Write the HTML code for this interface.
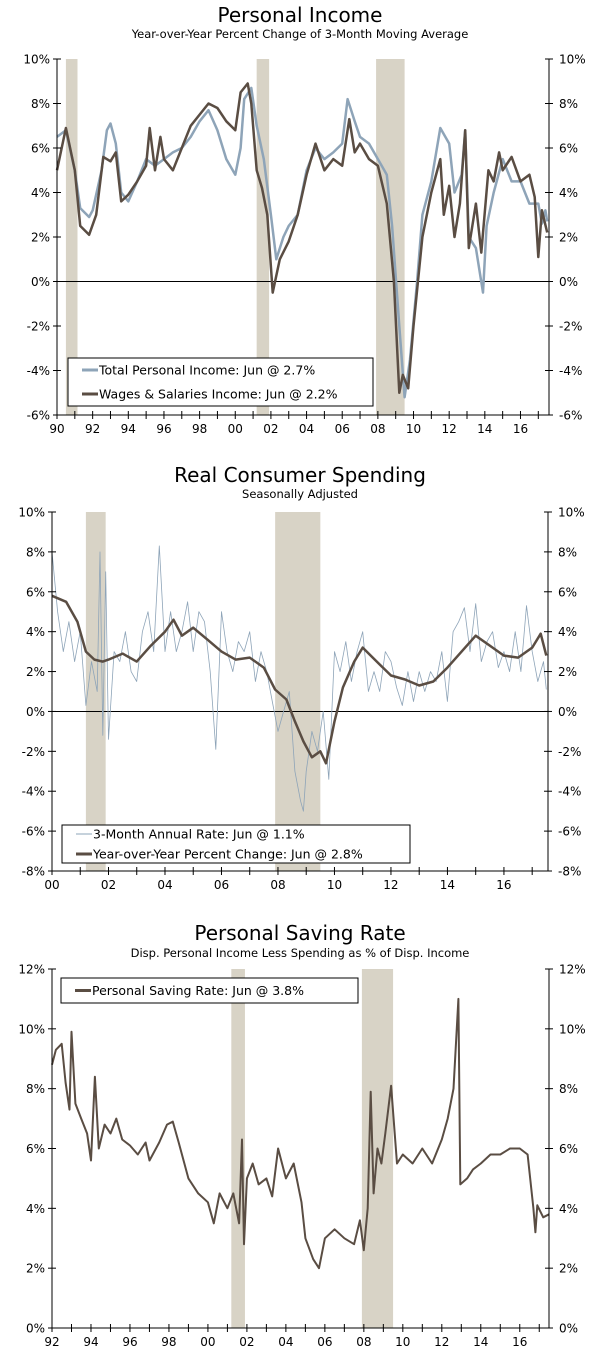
<!DOCTYPE html>
<html><head><meta charset="utf-8"><style>
body{margin:0;background:#fff;width:600px;height:1361px;overflow:hidden}
svg{display:block;font-family:"DejaVu Sans","Liberation Sans",sans-serif}
</style></head><body>
<svg id="s" width="600" height="1361">
<text x="300" y="22" text-anchor="middle" font-size="20">Personal Income</text>
<text x="300" y="38" text-anchor="middle" font-size="11.5">Year-over-Year Percent Change of 3-Month Moving Average</text>
<text x="300" y="482" text-anchor="middle" font-size="20">Real Consumer Spending</text>
<text x="300" y="498" text-anchor="middle" font-size="11.5">Seasonally Adjusted</text>
<text x="300" y="940" text-anchor="middle" font-size="20">Personal Saving Rate</text>
<text x="300" y="957" text-anchor="middle" font-size="11.5">Disp. Personal Income Less Spending as % of Disp. Income</text>
</svg>
<script>
// Chart 1 data
const c1RecStart=[1990.5,2001.2,2007.9];
const c1RecEnd=[1991.15,2001.9,2009.5];
const c1TotalX=[1990,1990.5,1991,1991.3,1991.8,1992,1992.5,1992.8,1993,1993.3,1993.6,1994,1994.5,1995,1995.5,1996,1996.5,1997,1997.5,1998,1998.5,1999,1999.5,2000,2000.3,2000.5,2000.9,2001.2,2001.6,2002,2002.3,2002.7,2003,2003.5,2004,2004.5,2005,2005.5,2006,2006.3,2006.7,2007,2007.5,2008,2008.5,2008.8,2009.2,2009.5,2009.8,2010.2,2010.5,2011,2011.5,2012,2012.3,2012.7,2012.9,2013.1,2013.5,2013.9,2014.1,2014.5,2015,2015.5,2016,2016.5,2017,2017.2,2017.4,2017.5];
const c1TotalY=[6.5,6.8,5,3.3,2.9,3.2,5,6.8,7.1,6.2,4,3.6,4.5,5.5,5.2,5.5,5.8,6,6.5,7.2,7.7,6.8,5.5,4.8,6,8.2,8.7,7,5.5,3,1,2,2.5,3,5,6,5.5,5.8,6.2,8.2,7.2,6.5,6.2,5.5,4.8,2.5,-2,-5.2,-3.5,0,3,4.5,6.9,6.2,4,4.8,6.8,2,1.5,-0.5,2.5,4,5.5,4.5,4.5,3.5,3.5,2.6,3.2,2.7];
const c1WageX=[1990,1990.5,1991,1991.3,1991.8,1992.2,1992.6,1993,1993.3,1993.6,1994,1994.5,1995,1995.2,1995.5,1995.8,1996,1996.5,1997,1997.5,1998,1998.5,1999,1999.5,2000,2000.3,2000.7,2000.9,2001.2,2001.5,2001.8,2002.1,2002.5,2003,2003.5,2004,2004.5,2005,2005.5,2006,2006.4,2006.7,2007,2007.5,2008,2008.5,2008.9,2009.2,2009.4,2009.7,2010,2010.5,2011,2011.5,2011.7,2012,2012.3,2012.6,2012.9,2013.1,2013.5,2013.8,2014.2,2014.5,2014.8,2015,2015.5,2016,2016.5,2016.8,2017,2017.2,2017.5];
const c1WageY=[5,6.9,5,2.5,2.1,3,5.6,5.4,5.8,3.6,3.9,4.5,5.2,6.9,5,6.5,5.5,5,6,7,7.5,8,7.8,7.2,6.8,8.5,8.9,8,5,4.2,3,-0.5,1,1.8,3,4.8,6.2,5,5.5,5.2,7.3,5.8,6.2,5.5,5.2,3.5,0,-5,-4.2,-4.8,-2,2,4,5.5,3,4.3,2,3.5,6.8,1.5,3.5,1.3,5,4.5,5.8,5,5.6,4.5,4.8,3.8,1.1,3.2,2.2];
const c1Ticks=["90","92","94","96","98","00","02","04","06","08","10","12","14","16"];
// Chart 2 data
const c2RecStart=[2001.2,2007.9];
const c2RecEnd=[2001.9,2009.5];
const c2YoyX=[2000,2000.5,2000.9,2001.2,2001.5,2001.8,2002,2002.5,2003,2003.5,2004,2004.3,2004.6,2005,2005.5,2006,2006.5,2007,2007.5,2007.9,2008.3,2008.6,2008.9,2009.2,2009.5,2009.7,2010,2010.3,2010.7,2011,2011.5,2012,2012.5,2013,2013.5,2014,2014.5,2015,2015.5,2016,2016.5,2017,2017.3,2017.5];
const c2YoyY=[5.8,5.5,4.5,3,2.6,2.5,2.6,2.9,2.5,3.3,4,4.6,3.8,4.2,3.6,3,2.6,2.7,2.2,1.1,0.6,-0.5,-1.5,-2.3,-2,-2.6,-0.5,1.2,2.5,3.2,2.5,1.8,1.6,1.3,1.5,2.2,3,3.8,3.3,2.8,2.7,3.2,3.9,2.8];
const c2AnnX=[2000,2000.2,2000.4,2000.6,2000.8,2001,2001.2,2001.4,2001.6,2001.7,2001.8,2001.9,2002,2002.2,2002.4,2002.6,2002.8,2003,2003.2,2003.4,2003.6,2003.8,2004,2004.2,2004.4,2004.6,2004.8,2005,2005.2,2005.4,2005.6,2005.8,2006,2006.2,2006.4,2006.6,2006.8,2007,2007.2,2007.4,2007.6,2007.8,2008,2008.2,2008.4,2008.6,2008.8,2008.9,2009,2009.2,2009.4,2009.6,2009.8,2010,2010.2,2010.4,2010.6,2010.8,2011,2011.2,2011.4,2011.6,2011.8,2012,2012.2,2012.4,2012.6,2012.8,2013,2013.2,2013.4,2013.6,2013.8,2014,2014.2,2014.4,2014.6,2014.8,2015,2015.2,2015.4,2015.6,2015.8,2016,2016.2,2016.4,2016.6,2016.8,2017,2017.2,2017.4,2017.5];
const c2AnnY=[8,5,3,4.5,2.5,4,0.3,2.5,1,8,-1.2,7,-1.4,3,2.5,4,2,1.5,4,5,3,8.3,3,5,3,4,5.5,3,5,4.5,2,-1.9,5,3,2,3.5,3,4,1.5,3,2,0.5,-1,0,1,-3,-4.5,-5,-3,-1,-2,0,-3.4,3,2,3.5,1.5,3,4,1,2,1,3,2.5,1.2,0.3,2,0.5,2,1,2,1.5,3,0.5,4,4.5,5.2,3,5.4,2.5,3.5,4,2.2,3,2,4,2,5.3,3,1.5,2.5,1.1];
const c2Ticks=["00","02","04","06","08","10","12","14","16"];
// Chart 3 data
const c3RecStart=[2001.2,2007.9];
const c3RecEnd=[2001.9,2009.5];
const c3RateX=[1992,1992.2,1992.5,1992.7,1992.9,1993,1993.2,1993.5,1993.8,1994,1994.2,1994.4,1994.7,1995,1995.3,1995.6,1996,1996.4,1996.8,1997,1997.5,1997.9,1998.2,1998.5,1999,1999.5,2000,2000.3,2000.6,2001,2001.3,2001.6,2001.75,2001.85,2002,2002.3,2002.6,2003,2003.3,2003.6,2004,2004.4,2004.8,2005,2005.4,2005.7,2006,2006.5,2007,2007.5,2007.8,2008,2008.2,2008.35,2008.5,2008.7,2008.9,2009.1,2009.4,2009.7,2010,2010.5,2011,2011.5,2012,2012.3,2012.6,2012.85,2012.95,2013.3,2013.6,2014,2014.5,2015,2015.5,2016,2016.4,2016.7,2016.8,2016.9,2017.2,2017.5];
const c3RateY=[8.8,9.3,9.5,8.2,7.3,9.9,7.5,7,6.5,5.6,8.4,6,6.8,6.5,7,6.3,6.1,5.8,6.2,5.6,6.2,6.8,6.9,6.2,5,4.5,4.2,3.5,4.5,4,4.5,3.5,6.3,2.8,5,5.5,4.8,5,4.4,6,5,5.5,4.2,3,2.3,2,3,3.3,3,2.8,3.6,2.6,4,7.9,4.5,6,5.5,6.5,8.1,5.5,5.8,5.5,6,5.5,6.3,7,8,11,4.8,5,5.3,5.5,5.8,5.8,6,6,5.8,4,3.2,4.1,3.7,3.8];
const c3Ticks=["92","94","96","98","00","02","04","06","08","10","12","14","16"];

const svg=document.getElementById('s');
const NS='http://www.w3.org/2000/svg';
function mk(tag,at){const e=document.createElementNS(NS,tag);for(const k in at)e.setAttribute(k,at[k]);svg.appendChild(e);return e;}
const BLUE='#8ea4b8',DARK='#5a4d43',REC='#d8d3c6';

function chart(id,o){
  const sx=v=>o.x0+(v-o.t0)*(o.x1-o.x0)/(o.t1-o.t0);
  const sy=v=>o.yTop+(o.vMax-v)*(o.yBot-o.yTop)/(o.vMax-o.vMin);
  for(let i=0;i<o.recS.length;i++){
    const r=mk('rect',{x:sx(o.recS[i]),y:o.yTop,width:sx(o.recE[i])-sx(o.recS[i]),height:o.yBot-o.yTop,fill:REC});
    
    
  }
  if(o.vMin<0){const z=mk('line',{x1:o.x0,x2:o.x1,y1:sy(0),y2:sy(0),stroke:'#000','stroke-width':1});
    }
  o.series.forEach(s=>{
    const p=s.xs.map((x,i)=>(i?'L':'M')+sx(x).toFixed(1)+','+sy(s.ys[i]).toFixed(1)).join('');
    const e=mk('path',{d:p,fill:'none',stroke:s.color,'stroke-width':s.w,'stroke-linejoin':'round'});
    
    
  });
  const ax=mk('path',{d:`M${o.x0},${o.yTop}V${o.yBot}H${o.x1}V${o.yTop}`,fill:'none',stroke:'#000','stroke-width':1});
  
  for(let v=o.vMin;v<=o.vMax;v+=o.step){
    const y=sy(v);
    mk('line',{x1:o.x0-4,x2:o.x0+4,y1:y,y2:y,stroke:'#000'});
    mk('line',{x1:o.x1-4,x2:o.x1+4,y1:y,y2:y,stroke:'#000'});
    const l=mk('text',{x:o.x0-7,y:y+4.5,'text-anchor':'end','font-size':12});l.textContent=v+'%';
    
    const r=mk('text',{x:o.x1+10,y:y+4.5,'font-size':12});r.textContent=v+'%';
    
  }
  for(let t=o.t0;t<=o.t1;t++){mk('line',{x1:sx(t),x2:sx(t),y1:o.yBot-4,y2:o.yBot+4,stroke:'#000'});}
  o.ticks.forEach((lab,i)=>{const t=mk('text',{x:sx(o.t0+2*i),y:o.yBot+18,'text-anchor':'middle','font-size':12});t.textContent=lab;
    });
  // legend
  const L=o.legend;
  const b=mk('rect',{x:L.x,y:L.y,width:L.w,height:L.h,fill:'#fff',stroke:'#000'});
  
  L.items.forEach((it,i)=>{
    const y=L.y+L.first+i*L.gap;
    mk('line',{x1:L.x+14,x2:L.x+30,y1:y,y2:y,stroke:it.color,'stroke-width':it.w});
    const t=mk('text',{x:L.x+31,y:y+4.5,'font-size':12.5});t.textContent=it.label;
    
  });
}
chart('chart1',{x0:57,x1:549,t0:1990,t1:2017.6,yTop:59,yBot:415,vMin:-6,vMax:10,step:2,recS:c1RecStart,recE:c1RecEnd,ticks:c1Ticks,
  series:[{xs:c1TotalX,ys:c1TotalY,color:BLUE,w:2.5,name:'total-personal-income-line'},{xs:c1WageX,ys:c1WageY,color:DARK,w:2.5,name:'wages-salaries-line'}],
  legend:{x:68,y:358,w:305,h:48,first:12,gap:24,items:[{color:BLUE,w:3,label:'Total Personal Income: Jun @ 2.7%'},{color:DARK,w:3,label:'Wages & Salaries Income: Jun @ 2.2%'}]}});
chart('chart2',{x0:52,x1:548,t0:2000,t1:2017.56,yTop:512,yBot:871,vMin:-8,vMax:10,step:2,recS:c2RecStart,recE:c2RecEnd,ticks:c2Ticks,
  series:[{xs:c2AnnX,ys:c2AnnY,color:BLUE,w:0.8,name:'three-month-annual-rate-line'},{xs:c2YoyX,ys:c2YoyY,color:DARK,w:2.5,name:'yoy-percent-change-line'}],
  legend:{x:62,y:825,w:348,h:38,first:9,gap:20,items:[{color:BLUE,w:1,label:'3-Month Annual Rate: Jun @ 1.1%'},{color:DARK,w:3,label:'Year-over-Year Percent Change: Jun @ 2.8%'}]}});
chart('chart3',{x0:52,x1:549,t0:1992,t1:2017.5,yTop:969,yBot:1328,vMin:0,vMax:12,step:2,recS:c3RecStart,recE:c3RecEnd,ticks:c3Ticks,
  series:[{xs:c3RateX,ys:c3RateY,color:DARK,w:2,name:'personal-saving-rate-line'}],
  legend:{x:61,y:978,w:297,h:25,first:12.5,gap:20,items:[{color:DARK,w:3,label:'Personal Saving Rate: Jun @ 3.8%'}]}});
</script>
</body></html>
